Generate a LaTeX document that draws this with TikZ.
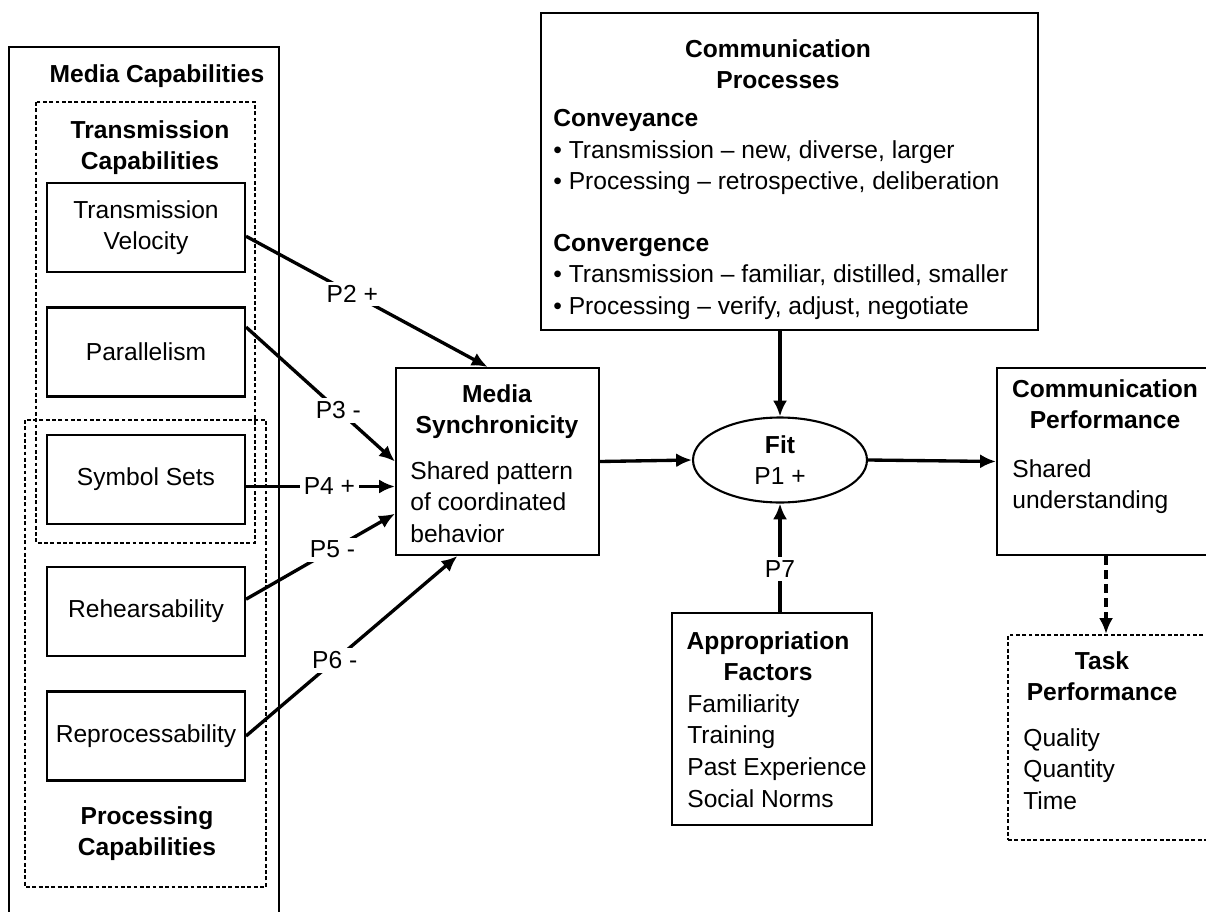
\documentclass[tikz,border=0pt]{standalone}
\usepackage{fontspec}
\setmainfont{Liberation Sans}
\usetikzlibrary{arrows.meta}
\usetikzlibrary{shapes.geometric}
\usetikzlibrary{positioning}

\begin{document}
\fontsize{14pt}{18pt}\selectfont
\begin{tikzpicture}
	[> = {Latex[length=9pt,width=8pt]},
	x=0.02cm, y=-0.02cm,
	box/.style = {draw, line width=1.2pt, inner sep=0pt},
	capbox/.style = {box, minimum width=3.96cm, minimum height=1.78cm, align=center},
	dashbox/.style = {draw, line width=1.3pt, dash pattern=on 2.2pt off 1.4pt},
	head/.style = {font=\bfseries, align=center, anchor=north, inner sep=0pt},
	body/.style = {align=left, anchor=north west, inner sep=0pt},
	link/.style = {->, line width=1.9pt},
	plabel/.style = {fill=white, inner sep=2pt}
	]
	\useasboundingbox (0,0) rectangle (1206,912);
	\clip (0,0) rectangle (1206,912);

	% media capabilities column
	\draw[line width=0.6pt] (9,47) rectangle (279,930);
	\node[head] (mediacap) at (157,64) {Media Capabilities};
	\draw[dashbox] (36,102) rectangle (255,543);
	\node[head] (transcap) at (150,120) {Transmission\\Capabilities};
	\draw[dashbox] (25,420) rectangle (266,887);
	\node[head] (proccap) at (147,806) {Processing\\Capabilities};

	\node[capbox] (velocity) at (146,227.5) {Transmission\\Velocity};
	\node[capbox] (parallel) at (146,352) {Parallelism};
	\node[capbox] (symbols) at (146,479.5) {Symbol Sets};
	\node[capbox] (rehearse) at (146,611.5) {Rehearsability};
	\node[capbox] (reproc) at (146,736) {Reprocessability};

	% media synchronicity
	\node[box, minimum width=4.06cm, minimum height=3.74cm] (sync) at (497.5,461.5) {};
	\node[head] (synchead) at (497,384) {Media\\Synchronicity};
	\node[body] (syncbody) at (410,461) {Shared pattern\\of coordinated\\behavior};

	% communication processes
	\node[box, minimum width=9.94cm, minimum height=6.34cm] (proc) at (789.5,171.5) {};
	\node[head] (prochead) at (778,39) {Communication\\Processes};
	\node[body] (procbody) at (553,109) {\textbf{Conveyance}\\• Transmission – new, diverse, larger\\• Processing – retrospective, deliberation\\[17pt]\textbf{Convergence}\\• Transmission – familiar, distilled, smaller\\• Processing – verify, adjust, negotiate};

	% fit
	\node[ellipse, draw, line width=1.2pt, minimum width=3.48cm, minimum height=1.7cm, inner sep=0pt, align=center] (fit) at (780,460) {\textbf{Fit}\\P1 +};

	% appropriation factors
	\node[box, minimum width=4cm, minimum height=4.24cm] (approp) at (772,719) {};
	\node[head] (approphead) at (768,631) {Appropriation\\Factors};
	\node[body] (appropbody) at (687,694) {Familiarity\\Training\\Past Experience\\Social Norms};

	% performance
	\node[box, minimum width=4.36cm, minimum height=3.74cm] (commperf) at (1106,461.5) {};
	\node[head] (perfhead) at (1105,379) {Communication\\Performance};
	\node[body] (perfbody) at (1012,459) {Shared\\understanding};

	\node[dashbox, inner sep=0pt, minimum width=4.14cm, minimum height=4.1cm] (task) at (1111.5,737.5) {};
	\node[head] (taskhead) at (1102,651) {Task\\Performance};
	\node[body] (taskbody) at (1023,728) {Quality\\Quantity\\Time};

	% propositions
	\draw[link] (velocity.-5) -- node[plabel, pos=0.44] {P2 +} (sync.96);
	\draw[link] (parallel.14) -- node[plabel, pos=0.62] {P3 -} (sync.west);
	\draw[link] (symbols.-4) -- node[plabel, pos=0.56] {P4 +} (sync.west |- symbols.-4);
	\draw[link] (rehearse.7) -- node[plabel, pos=0.58] {P5 -} (sync.207);
	\draw[link] (reproc.east) -- node[plabel, pos=0.42] {P6 -} (sync.247);

	\draw[link] (sync.east) -- (fit.west);
	\draw[link] (fit.north |- proc.south) -- (fit.north);
	\draw[link] (fit.south |- approp.north) -- node[plabel, pos=0.4] {P7} (fit.south);
	\draw[link] (fit.east) -- (commperf.west);
	\draw[link, dash pattern=on 5pt off 3pt] (commperf.south) -- (commperf.south |- task.north);
\end{tikzpicture}
\end{document}
